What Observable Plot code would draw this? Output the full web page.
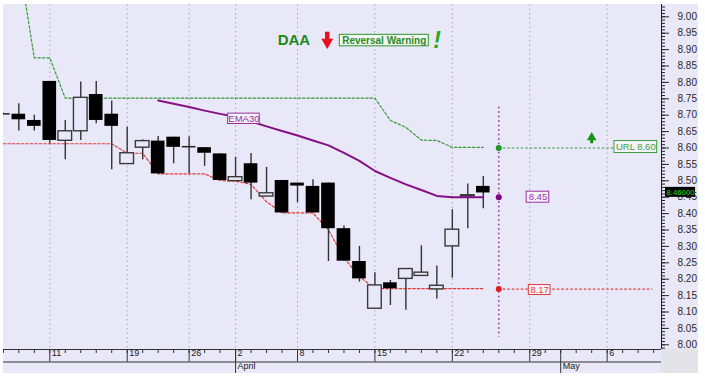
<!DOCTYPE html>
<html><head><meta charset="utf-8">
<script src="https://cdn.jsdelivr.net/npm/d3@7"></script>
<script src="https://cdn.jsdelivr.net/npm/@observablehq/plot@0.6"></script>
<style>
html,body{margin:0;padding:0;background:#fff;}
#chart{position:absolute;left:3px;top:4px;width:695px;height:369px;background:#e8e8f8;overflow:hidden;}
</style></head><body><div id="chart"></div>
<script>
// Trading days shown on the axis (2013)
const tradingDays = ["2013-03-06","2013-03-07","2013-03-08","2013-03-11","2013-03-12","2013-03-13","2013-03-14","2013-03-15",
  "2013-03-19","2013-03-20","2013-03-21","2013-03-22","2013-03-26","2013-03-27","2013-03-28",
  "2013-04-02","2013-04-03","2013-04-04","2013-04-05","2013-04-08","2013-04-09","2013-04-10","2013-04-11","2013-04-12",
  "2013-04-15","2013-04-16","2013-04-17","2013-04-18","2013-04-19","2013-04-22","2013-04-23","2013-04-24","2013-04-25","2013-04-26",
  "2013-04-29","2013-04-30","2013-05-01","2013-05-02","2013-05-03","2013-05-06","2013-05-07","2013-05-08","2013-05-09"];
const monthNames = ["January","February","March","April","May","June","July","August","September","October","November","December"];

// Candles (one per trading day from the first)
const candleOpen  = [8.704,8.703,8.684,8.803,8.622,8.651,8.763,8.703,8.551,8.601,8.621,8.633,8.604,8.601,8.582,8.499,8.552,8.452,8.501,8.493,8.483,8.493,8.354,8.254,8.110,8.189,8.201,8.210,8.169,8.300,8.452,8.483];
const candleHigh  = [8.706,8.735,8.700,8.803,8.684,8.801,8.803,8.743,8.663,8.625,8.635,8.633,8.634,8.601,8.582,8.572,8.583,8.541,8.501,8.493,8.503,8.493,8.362,8.300,8.220,8.196,8.231,8.302,8.240,8.412,8.490,8.513];
const candleLow   = [8.702,8.652,8.652,8.613,8.564,8.623,8.674,8.534,8.550,8.564,8.521,8.552,8.521,8.544,8.500,8.499,8.442,8.452,8.402,8.433,8.402,8.254,8.255,8.191,8.110,8.120,8.105,8.210,8.140,8.203,8.354,8.415];
const candleClose = [8.704,8.686,8.666,8.623,8.651,8.753,8.684,8.666,8.584,8.621,8.521,8.602,8.604,8.584,8.501,8.511,8.493,8.462,8.402,8.484,8.402,8.354,8.255,8.201,8.181,8.171,8.231,8.220,8.180,8.351,8.456,8.463];

// Support (red dotted) and resistance (green dotted) lines
const supportLine = [8.613,8.613,8.613,8.613,8.613,8.613,8.613,8.613,8.584,8.584,8.521,8.521,8.521,8.521,8.501,8.499,8.489,8.436,8.402,8.402,8.402,8.350,8.265,8.208,8.171,8.171,8.171,8.171,8.171,8.171,8.171,8.171];
const resistLine  = [9.170,9.170,8.875,8.875,8.752,8.752,8.752,8.752,8.752,8.752,8.752,8.752,8.752,8.752,8.752,8.752,8.752,8.752,8.752,8.752,8.752,8.752,8.752,8.752,8.752,8.684,8.663,8.624,8.623,8.602,8.602,8.602];

// EMA30 starting at candle 10
const emaStart = 10;
const ema30 = [8.745,8.735,8.725,8.714,8.704,8.695,8.681,8.666,8.652,8.638,8.623,8.608,8.585,8.561,8.530,8.509,8.489,8.472,8.454,8.450,8.450,8.450];

// Projection
const projDay = 32;
const projResist = 8.60, projEma = 8.45, projSupport = 8.17;
const currentPrice = 8.46;
const yMajorTicks = d3.range(0, 21).map(k => +(8 + k * 0.05).toFixed(2));
const yMinorTicks = d3.range(-1, 104).map(k => +(8 + k * 0.01).toFixed(2));

// ---- derived tables ----
const days = tradingDays.map((s, i) => ({i, date: new Date(s + "T00:00:00Z")}));
const weekStarts = days.filter((d, k) => k > 0 && d.date.getUTCDay() <= days[k-1].date.getUTCDay())
  .map(d => ({i: d.i, label: String(d.date.getUTCDate())}));
const monthStarts = days.filter((d, k) => k > 0 && d.date.getUTCMonth() !== days[k-1].date.getUTCMonth())
  .map(d => ({i: d.i, label: monthNames[d.date.getUTCMonth()]}));
const candles = candleOpen.map((o, i) => ({i, o, h: candleHigh[i], l: candleLow[i], c: candleClose[i],
  sup: supportLine[i], res: resistLine[i]}));
const isDoji = d => Math.abs(d.c - d.o) < 0.002;
const upC = candles.filter(d => d.c > d.o && !isDoji(d));
const downC = candles.filter(d => d.c <= d.o && !isDoji(d));
const dojiC = candles.filter(isDoji);
const emaData = ema30.map((v, k) => ({i: emaStart + k, v}));

const xDomain = [0.01, 42.51], yDomain = [7.9857, 9.0375];
const bg = "#e8e8f8";
const hw = 0.44;
const FONT = "Liberation Sans, Arial, sans-serif";

const labels = [
  {x: 15.54, y: 8.689, hw: 1.02, hh: 0.0158, text: "EMA30", color: "#9b2f9b"},
  {x: 34.53, y: projEma, hw: 0.73, hh: 0.0168, text: "8.45", color: "#9b2f9b"},
  {x: 34.64, y: projSupport - 0.003, hw: 0.70, hh: 0.0152, text: "8.17", color: "#e03a3a"},
  {x: 40.85, y: projResist + 0.003, hw: 1.38, hh: 0.0183, text: "URL 8.60", color: "#3aa23a"}
];

const chart = Plot.plot({
  width: 695, height: 369,
  marginLeft: 0, marginRight: 37, marginTop: 0, marginBottom: 24,
  x: {domain: xDomain, axis: null},
  y: {domain: yDomain, axis: null},
  style: {background: "transparent", fontFamily: FONT, overflow: "hidden"},
  marks: [
    // bottom-right corner box
    Plot.rect([0], {x1: xDomain[1], x2: xDomain[1] + 5, y1: yDomain[0], y2: yDomain[0] - 0.2, fill: "#e4e4e8"}),
    // vertical grid
    Plot.ruleX(weekStarts, {x: "i", stroke: "#a8a8bc", strokeDasharray: "1.5,3", strokeWidth: 1}),
    // support / resistance
    Plot.line(candles, {x: "i", y: "sup", stroke: "#e23b3b", strokeDasharray: "2.5,2", strokeWidth: 1.2}),
    Plot.line(candles, {x: "i", y: "res", stroke: "#3a9a3a", strokeDasharray: "2.5,2", strokeWidth: 1.2}),
    // candles
    Plot.ruleX(candles, {x: "i", y1: "l", y2: "h", stroke: "#333", strokeWidth: 1.4}),
    Plot.rect(upC, {x1: d => d.i - hw, x2: d => d.i + hw, y1: "o", y2: "c", fill: bg, stroke: "#3a3a3a", strokeWidth: 1.4}),
    Plot.rect(downC, {x1: d => d.i - hw, x2: d => d.i + hw, y1: "o", y2: "c", fill: "#000"}),
    Plot.ruleY(dojiC, {x1: d => d.i - hw, x2: d => d.i + hw, y: "c", stroke: "#222", strokeWidth: 1.5}),
    // EMA30
    Plot.line(emaData, {x: "i", y: "v", stroke: "#850f85", strokeWidth: 2}),
    // projection
    Plot.ruleX([projDay], {y1: 8.724, y2: 8.023, stroke: "#9b2f9b", strokeDasharray: "1.5,3", strokeWidth: 1.6}),
    Plot.ruleY([projResist], {x1: projDay, x2: 39.47, stroke: "#3a9a3a", strokeDasharray: "2.5,2", strokeWidth: 1.2}),
    Plot.ruleY([projSupport], {x1: projDay, x2: 41.94, stroke: "#e23b3b", strokeDasharray: "2.5,2", strokeWidth: 1.2}),
    Plot.dot([projResist], {x: projDay, y: d => d, r: 3, fill: "#1f961f"}),
    Plot.dot([projEma], {x: projDay, y: d => d, r: 3, fill: "#800080"}),
    Plot.dot([projSupport], {x: projDay, y: d => d, r: 3, fill: "#e01e1e"}),
    // green up arrow
    Plot.ruleX([38], {y1: 8.613, y2: 8.635, stroke: "#169416", strokeWidth: 3}),
    Plot.dot([38], {x: d => d, y: 8.632, r: 3.6, symbol: "triangle", fill: "#169416"}),
    // labels
    Plot.rect(labels, {x1: d => d.x - d.hw, x2: d => d.x + d.hw, y1: d => d.y - d.hh, y2: d => d.y + d.hh,
      fill: "#f3f3fd", stroke: "color", strokeWidth: 1}),
    Plot.text(labels, {x: "x", y: "y", text: "text", fill: "color", fontSize: 9.5}),
    // title
    Plot.text(["DAA"], {x: 18.77, y: 8.928, text: d => d, fontSize: 15, fontWeight: "bold", fill: "#1b8a1b"}),
    Plot.ruleX([20.92], {y1: 8.953, y2: 8.926, stroke: "#e8101a", strokeWidth: 4.5}),
    Plot.dot([20.92], {x: d => d, y: 8.923, r: 4.4, symbol: "triangle", rotate: 180, fill: "#e8101a"}),
    Plot.rect([0], {x1: 21.73, x2: 27.48, y1: 8.910, y2: 8.945, fill: "#f2f8f2", stroke: "#2f9a2f", strokeWidth: 1}),
    Plot.text(["Reversal Warning"], {x: 24.6, y: 8.928, text: d => d, fontSize: 10, fontWeight: "bold", fill: "#2a8a2a"}),
    Plot.text(["!"], {x: 28.02, y: 8.928, text: d => d, fontSize: 23, fontWeight: "bold", fontStyle: "italic", fill: "#22aa22"}),
    // x axis band
    Plot.ruleY([yDomain[0]], {stroke: "#333"}),
    Plot.ruleY([yDomain[0]], {dy: 12.5, stroke: "#333"}),
    Plot.axisX(days.map(d => d.i), {anchor: "bottom", tickSize: 4, tickFormat: () => "", stroke: "#333", label: null}),
    Plot.axisX(weekStarts.map(d => d.i), {anchor: "bottom", tickSize: 12.5, tickFormat: () => "", stroke: "#333", label: null}),
    Plot.axisX(monthStarts.map(d => d.i), {anchor: "bottom", tickSize: 24, tickFormat: () => "", stroke: "#333", label: null}),
    Plot.text(weekStarts, {x: "i", text: "label", frameAnchor: "bottom", dx: 2, dy: 6.5, textAnchor: "start", fontSize: 9, fill: "#222"}),
    Plot.text(monthStarts, {x: "i", text: "label", frameAnchor: "bottom", dx: 2, dy: 19.3, textAnchor: "start", fontSize: 9, fill: "#222"}),
    // right axis
    Plot.ruleX([xDomain[1]], {stroke: "#222"}),
    Plot.axisY(yMinorTicks, {anchor: "right", tickSize: 3, tickFormat: () => "", stroke: "#222", label: null}),
    Plot.axisY(yMajorTicks, {anchor: "right", tickSize: 7, tickPadding: 9, tickFormat: d3.format(".2f"), fontSize: 10, color: "#2a2a2a", label: null}),
    // current price tag
    Plot.rect([currentPrice], {x1: xDomain[1] + 0.26, x2: xDomain[1] + 2.2, y1: d => d + 0.020, y2: d => d - 0.0105, fill: "#000"}),
    Plot.text([currentPrice], {x: xDomain[1] + 1.23, y: d => d + 0.0048, text: d => d.toFixed(5), fontSize: 7.8, fill: "#22e022"})
  ]
});
document.getElementById("chart").appendChild(chart);
</script>
</body></html>
